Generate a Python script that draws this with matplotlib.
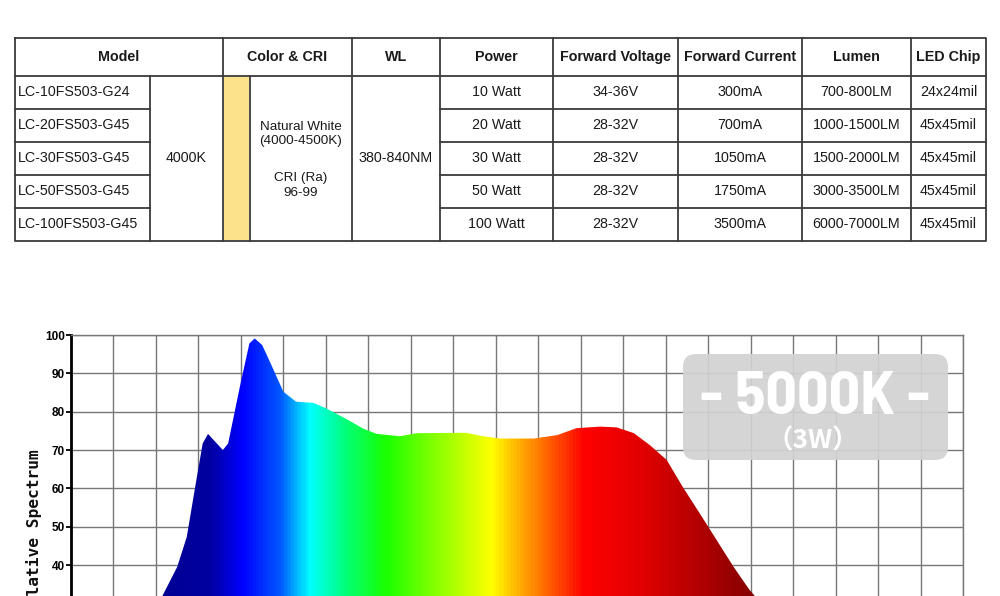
import numpy as np
import matplotlib
matplotlib.use('Agg')
import matplotlib.pyplot as plt
from matplotlib import font_manager
from matplotlib.textpath import TextPath
from matplotlib.colors import LinearSegmentedColormap
from matplotlib.patches import Polygon, FancyBboxPatch

# ---- table data ----
headers = ['Model', 'Color & CRI', 'WL', 'Power', 'Forward Voltage',
           'Forward Current', 'Lumen', 'LED Chip']
models = ['LC-10FS503-G24', 'LC-20FS503-G45', 'LC-30FS503-G45',
          'LC-50FS503-G45', 'LC-100FS503-G45']
cct = '4000K'
color_name = ['Natural White', '(4000-4500K)']
cri = ['CRI (Ra)', '96-99']
wl_range = '380-840NM'
powers = ['10 Watt', '20 Watt', '30 Watt', '50 Watt', '100 Watt']
voltages = ['34-36V', '28-32V', '28-32V', '28-32V', '28-32V']
currents = ['300mA', '700mA', '1050mA', '1750mA', '3500mA']
lumens = ['700-800LM', '1000-1500LM', '1500-2000LM', '3000-3500LM', '6000-7000LM']
chips = ['24x24mil', '45x45mil', '45x45mil', '45x45mil', '45x45mil']

# ---- spectrum data (wavelength nm, relative %) ----
wl = [395, 405, 413, 419, 423, 430, 434.5, 439, 442, 444.5, 451.5, 454,
      459.5, 464, 466.5, 470, 474, 480, 486, 494, 500, 510, 517.5, 524,
      535, 543, 566, 574, 582, 598, 609, 618, 629, 637, 645, 652.5,
      660.5, 668, 676, 684, 692, 699.5, 702, 708, 716, 728, 745]
rel = [0, 5, 14, 24, 31.9, 39.5, 47.3, 62.1, 71.7, 74.2, 70.0, 71.7,
       86.5, 97.8, 99.1, 97.4, 92.6, 85.2, 82.6, 82.3, 80.9, 78.0, 75.6, 74.2,
       73.6, 74.4, 74.5, 73.6, 73.0, 73.0, 73.9, 75.7, 76.1, 75.9, 74.4, 71.3,
       67.4, 60.4, 53.5, 46.5, 39.5, 33.5, 31.9, 24, 14, 5, 0]

stop_wl = [380, 445, 460, 478, 492, 508, 528, 550, 578, 588, 598, 610, 622, 650, 700, 800]
stop_col = ['#000080', '#0000a0', '#0000ff', '#0058ff', '#00ffff', '#00ff80',
            '#1aff00', '#80ff00', '#ffff00', '#ffc000', '#ff8800', '#ff4400',
            '#ff0000', '#e00000', '#880000', '#600000']

badge_title = '- 5000K -'
badge_sub = '（3W）'

fig = plt.figure(figsize=(10, 5.96), dpi=100)

# ---- spectrum chart ----
ax = fig.add_axes([0.071, -0.2053, 0.892, 0.6432])
cmap = LinearSegmentedColormap.from_list(
    'spec', [((w - 380) / 420, c) for w, c in zip(stop_wl, stop_col)])
grad = np.linspace(0, 1, 800).reshape(1, -1)
im = ax.imshow(grad, cmap=cmap, extent=[380, 800, 0, 100], aspect='auto',
               origin='lower', zorder=2, interpolation='bilinear')
poly = Polygon(np.column_stack([wl, rel]), closed=True, fc='none', ec='none')
ax.add_patch(poly)
im.set_clip_path(poly)

ax.set_xlim(380, 800)
ax.set_ylim(0, 100)
ax.set_xticks(np.arange(380, 801, 20))
ax.set_yticks(np.arange(0, 101, 10))
ax.grid(True, color='#777777', lw=1.0)
ax.set_axisbelow(True)
ax.spines['left'].set_color('black')
ax.spines['left'].set_linewidth(2.0)
for s in ['top', 'right', 'bottom']:
    ax.spines[s].set_color('#777777')
    ax.spines[s].set_linewidth(1.0)
ax.tick_params(axis='x', length=0, labelbottom=False)
ax.tick_params(axis='y', length=3.5, width=1.3, pad=1, labelsize=8.5)
plt.setp(ax.get_yticklabels(), fontweight='bold', family='Liberation Sans')

# ---- overlay in pixel units: table, axis title, badge ----
ov = fig.add_axes([0, 0, 1, 1])
ov.set_xlim(0, 1000)
ov.set_ylim(596, 0)
ov.axis('off')

ov.text(34.5, 449, 'Relative Spectrum', rotation=90, ha='center', va='top',
        family='DejaVu Sans Mono', fontsize=11.7, fontweight='bold',
        color='#111111')

cols = [15, 150, 223, 250, 352, 440, 553, 678, 802, 911, 986]
rows = [38, 75.5, 108.5, 141.5, 174.5, 207.5, 241]
lc = '#3a3a3a'
lw = 1.3
tfont = dict(family='Liberation Sans', color='#1a1a1a')

ov.plot([cols[0], cols[-1], cols[-1], cols[0], cols[0]],
        [rows[0], rows[0], rows[-1], rows[-1], rows[0]], color=lc, lw=lw)
ov.plot([cols[0], cols[-1]], [rows[1], rows[1]], color=lc, lw=lw)
for x in [223, 352, 440, 553, 678, 802, 911]:
    ov.plot([x, x], [rows[0], rows[-1]], color=lc, lw=lw)
for x in [150, 250]:
    ov.plot([x, x], [rows[1], rows[-1]], color=lc, lw=lw)
for y in rows[2:-1]:
    ov.plot([cols[0], cols[1]], [y, y], color=lc, lw=lw)
    ov.plot([cols[5], cols[-1]], [y, y], color=lc, lw=lw)
# color stripe
ov.fill_between([223.7, 249.3], rows[1] + 0.7, rows[-1] - 0.7,
                color='#fde28c', lw=0, zorder=1)

hx = [119, 287.5, 396, 496.5, 615.5, 740, 856.5, 948.5]
hy = (rows[0] + rows[1]) / 2
for x, h in zip(hx, headers):
    ov.text(x, hy, h, ha='center', va='center', fontsize=10.3,
            fontweight='bold', **tfont)

for i in range(5):
    yc = (rows[i + 1] + rows[i + 2]) / 2
    ov.text(18, yc, models[i], ha='left', va='center', fontsize=10.3, **tfont)
    for x, col in zip(hx[3:], [powers, voltages, currents, lumens, chips]):
        ov.text(x, yc, col[i], ha='center', va='center', fontsize=10.3, **tfont)

mid = (rows[1] + rows[-1]) / 2
ov.text(186.5, mid, cct, ha='center', va='center', fontsize=10.3, **tfont)
ov.text(301, 134, '\n'.join(color_name), ha='center', va='center',
        fontsize=9.7, linespacing=1.3, **tfont)
ov.text(301, 185.5, '\n'.join(cri), ha='center', va='center',
        fontsize=9.7, linespacing=1.3, **tfont)
ov.text(396, mid, wl_range, ha='center', va='center', fontsize=10.3, **tfont)


# badge title: upright bold condensed face whose "5000K" shape is closest
# to the reference (about 164 px wide for 47 px tall)
def closest_bold_condensed(target=164 / 47):
    best, best_err = None, None
    for f in font_manager.fontManager.ttflist:
        tag = f.name + ' ' + str(f.stretch) + ' ' + f.fname
        if not any(k in tag for k in ('Condensed', 'Narrow', 'condensed')):
            continue
        if 'Mono' in tag or 'Italic' in tag or 'Oblique' in tag:
            continue
        if f.style != 'normal':
            continue
        w = f.weight
        if isinstance(w, str):
            w = font_manager.weight_dict.get(w, 400)
        if w < 700:
            continue
        try:
            ext = TextPath((0, 0), '5000K', size=100,
                           prop=font_manager.FontProperties(fname=f.fname)).get_extents()
        except Exception:
            continue
        err = abs(ext.width / ext.height - target)
        if best_err is None or err < best_err:
            best, best_err = f.fname, err
    return best


fname = closest_bold_condensed()
if fname:
    probe = font_manager.FontProperties(fname=fname)
else:
    probe = font_manager.FontProperties(family='DejaVu Sans', weight='bold')
ext = TextPath((0, 0), '5000K', size=100, prop=probe).get_extents()
size = min(156 * 72 / ext.width, 47 * 72 / ext.height)
title_fp = probe.copy()
title_fp.set_size(size)

badge = FancyBboxPatch((683, 354), 265, 106,
                       boxstyle='round,pad=0,rounding_size=13',
                       fc='#d2d2d2', ec='none', alpha=0.92, zorder=5)
ov.add_patch(badge)
ov.text(815, 413.5, badge_title, ha='center', va='baseline', color='white',
        fontproperties=title_fp, zorder=6)
ov.text(813, 448, badge_sub, ha='center', va='baseline', color='white',
        fontsize=19, fontweight='bold',
        family=['Noto Sans CJK SC', 'DejaVu Sans'], zorder=6)

fig.savefig('out.png', dpi=100)
